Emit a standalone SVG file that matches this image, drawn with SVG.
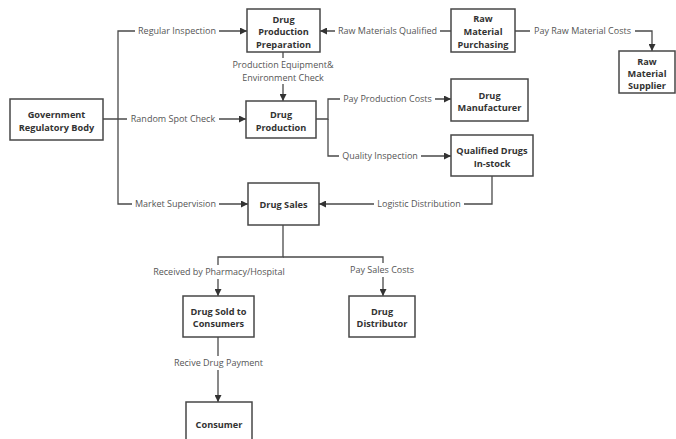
<svg xmlns="http://www.w3.org/2000/svg" width="676" height="439" viewBox="0 0 676 439">
<defs>
<style>
.box{fill:#fff;stroke:#474747;stroke-width:1.5}
.nt{font-family:"Open Sans","Noto Sans",sans-serif;font-size:9.2px;font-weight:bold;fill:#333;text-anchor:middle}
.ln{fill:none;stroke:#4a4a4a;stroke-width:1.3}
.lb{font-family:"Open Sans","Noto Sans",sans-serif;font-size:9px;fill:#555;text-anchor:middle}
.bg{fill:#fff}
</style>
<marker id="ah" viewBox="0 0 10 10" refX="10" refY="5" markerWidth="8" markerHeight="7" markerUnits="userSpaceOnUse" orient="auto">
<path d="M0,0 L10,5 L0,10 Z" fill="#333"/>
</marker>
</defs>
<rect width="676" height="439" fill="#fff"/>
<g id="connectors">
<path class="ln" d="M103,119 H246" marker-end="url(#ah)"/>
<path class="ln" d="M118,119 V31 H247" marker-end="url(#ah)"/>
<path class="ln" d="M118,119 V204 H248" marker-end="url(#ah)"/>
<path class="ln" d="M451,31 H320" marker-end="url(#ah)"/>
<path class="ln" d="M515,31 H652 V51" marker-end="url(#ah)"/>
<path class="ln" d="M283,52 V101" marker-end="url(#ah)"/>
<path class="ln" d="M316,119 H328 V99 H451" marker-end="url(#ah)"/>
<path class="ln" d="M328,119 V156 H451" marker-end="url(#ah)"/>
<path class="ln" d="M492,176 V204 H319" marker-end="url(#ah)"/>
<path class="ln" d="M283,225 V257 H218 V296" marker-end="url(#ah)"/>
<path class="ln" d="M283,257 H383 V296" marker-end="url(#ah)"/>
<path class="ln" d="M218,337 V402" marker-end="url(#ah)"/>
<g id="labels">
<rect class="bg" x="135" y="25" width="84" height="12"/><text class="lb" x="177" y="34">Regular Inspection</text>
<rect class="bg" x="127" y="113" width="92" height="12"/><text class="lb" x="173" y="122">Random Spot Check</text>
<rect class="bg" x="132" y="198" width="87" height="12"/><text class="lb" x="175.5" y="207">Market Supervision</text>
<rect class="bg" x="335" y="25" width="105" height="12"/><text class="lb" x="387.5" y="34">Raw Materials Qualified</text>
<rect class="bg" x="530" y="25" width="105" height="12"/><text class="lb" x="582.5" y="34">Pay Raw Material Costs</text>
<rect class="bg" x="231" y="58" width="105" height="26"/><text class="lb" x="283" y="68">Production Equipment&amp;</text><text class="lb" x="283" y="80.5">Environment Check</text>
<rect class="bg" x="340" y="93" width="95" height="12"/><text class="lb" x="387.5" y="102">Pay Production Costs</text>
<rect class="bg" x="339" y="150" width="82" height="12"/><text class="lb" x="380" y="159">Quality Inspection</text>
<rect class="bg" x="374" y="198" width="90" height="12"/><text class="lb" x="419" y="207">Logistic Distribution</text>
<rect class="bg" x="152" y="265" width="134" height="14"/><text class="lb" x="219" y="275">Received by Pharmacy/Hospital</text>
<rect class="bg" x="349" y="263" width="66" height="14"/><text class="lb" x="382" y="273">Pay Sales Costs</text>
<rect class="bg" x="173" y="356" width="91" height="14"/><text class="lb" x="218.5" y="366">Recive Drug Payment</text>
</g>
</g>
<g id="gov"><rect class="box" x="10" y="99" width="93" height="41"/><text class="nt" x="56.5" y="117.5">Government</text><text class="nt" x="56.5" y="130.5">Regulatory Body</text></g>
<g id="dpp"><rect class="box" x="247" y="9" width="73" height="43"/><text class="nt" x="283.5" y="22.5">Drug</text><text class="nt" x="283.5" y="35">Production</text><text class="nt" x="283.5" y="47.5">Preparation</text></g>
<g id="rmp"><rect class="box" x="451" y="9" width="64" height="43"/><text class="nt" x="483" y="22">Raw</text><text class="nt" x="483" y="35">Material</text><text class="nt" x="483" y="47.5">Purchasing</text></g>
<g id="rms"><rect class="box" x="619" y="51" width="56" height="42"/><text class="nt" x="647" y="64.5">Raw</text><text class="nt" x="647" y="76.5">Material</text><text class="nt" x="647" y="88.5">Supplier</text></g>
<g id="dp"><rect class="box" x="246" y="101" width="70" height="37"/><text class="nt" x="281" y="117.5">Drug</text><text class="nt" x="281" y="130.5">Production</text></g>
<g id="dm"><rect class="box" x="451" y="79" width="77" height="42"/><text class="nt" x="489.5" y="98.5">Drug</text><text class="nt" x="489.5" y="110.5">Manufacturer</text></g>
<g id="qd"><rect class="box" x="451" y="135" width="82" height="41"/><text class="nt" x="492" y="153.5">Qualified Drugs</text><text class="nt" x="492" y="166.5">In-stock</text></g>
<g id="ds"><rect class="box" x="248" y="183" width="71" height="42"/><text class="nt" x="283.5" y="207.5">Drug Sales</text></g>
<g id="dsc"><rect class="box" x="183" y="296" width="71" height="41"/><text class="nt" x="218.5" y="314.5">Drug Sold to</text><text class="nt" x="218.5" y="326.5">Consumers</text></g>
<g id="dd"><rect class="box" x="349" y="296" width="66" height="41"/><text class="nt" x="382" y="314.5">Drug</text><text class="nt" x="382" y="326.5">Distributor</text></g>
<g id="consumer"><rect class="box" x="186" y="402" width="66" height="42"/><text class="nt" x="219" y="427.5">Consumer</text></g>
</svg>
